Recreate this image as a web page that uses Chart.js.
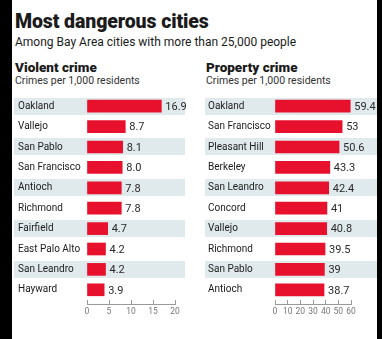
<!DOCTYPE html>
<html>
<head>
<meta charset="utf-8">
<script src="https://cdn.jsdelivr.net/npm/chart.js"></script>
<style>
body { margin:0; width:382px; height:339px; background:#fff; position:relative; overflow:hidden; font-family:Roboto, "Open Sans", sans-serif; color:#1b1b1b; }
#bordeIzq { position:absolute; left:0; top:0; width:12px; height:339px; background:#000; }
#bordeDer { position:absolute; left:377px; top:0; width:5px; height:339px; background:#000; }
.t { position:absolute; white-space:nowrap; line-height:1; }
#titulo { left:15px; top:12px; font-size:19.5px; font-weight:900; letter-spacing:-0.1px; }
#subtitulo { left:15px; top:36px; font-size:12px; }
.panel { top:61px; font-size:13.5px; font-weight:900; }
.unidad { top:76px; font-size:10.5px; color:#333; }
canvas { position:absolute; }
</style>
</head>
<body>
<div id="bordeIzq"></div>
<div id="bordeDer"></div>
<div class="t" id="titulo">Most dangerous cities</div>
<div class="t" id="subtitulo">Among Bay Area cities with more than 25,000 people</div>
<div class="t panel" style="left:15px">Violent crime</div>
<div class="t unidad" style="left:15px">Crimes per 1,000 residents</div>
<div class="t panel" style="left:206px">Property crime</div>
<div class="t unidad" style="left:206px">Crimes per 1,000 residents</div>
<canvas id="graficaViolento" width="176" height="234" style="left:14px; top:90px"></canvas>
<canvas id="graficaPropiedad" width="172" height="234" style="left:205px; top:90px"></canvas>
<script>
var ciudadesViolento = ["Oakland", "Vallejo", "San Pablo", "San Francisco", "Antioch",
  "Richmond", "Fairfield", "East Palo Alto", "San Leandro", "Hayward"];
var violento = [16.9, 8.7, 8.1, 8.0, 7.8, 7.8, 4.7, 4.2, 4.2, 3.9];
var ticksViolento = [0, 5, 10, 15, 20];

var ciudadesPropiedad = ["Oakland", "San Francisco", "Pleasant Hill", "Berkeley", "San Leandro",
  "Concord", "Vallejo", "Richmond", "San Pablo", "Antioch"];
var propiedad = [59.4, 53, 50.6, 43.3, 42.4, 41, 40.8, 39.5, 39, 38.7];
var ticksPropiedad = [0, 10, 20, 30, 40, 50, 60];

// filas sombreadas detras de las barras
var bandas = {
  id: 'bandas',
  beforeDraw: function(chart, args, opts) {
    var ctx = chart.ctx, y = chart.scales.y;
    var paso = y.getPixelForValue(1) - y.getPixelForValue(0);
    var fin = chart.chartArea.right + opts.extra;
    ctx.save();
    ctx.fillStyle = '#e0eaed';
    for (var i = 0; i < chart.data.labels.length; i += 2) {
      var c = y.getPixelForValue(i);
      ctx.fillRect(0, Math.round(c - paso * 0.42), fin, Math.round(paso * 0.84));
    }
    ctx.restore();
  }
};

// numero al final de cada barra
var valores = {
  id: 'valores',
  afterDatasetsDraw: function(chart, args, opts) {
    var ctx = chart.ctx, meta = chart.getDatasetMeta(0), datos = chart.data.datasets[0].data;
    ctx.save();
    ctx.font = '11px Roboto';
    ctx.fillStyle = '#2a2a2a';
    ctx.textBaseline = 'middle';
    meta.data.forEach(function(barra, i) {
      var txt = opts.decimales != null ? datos[i].toFixed(opts.decimales) : String(datos[i]);
      ctx.fillText(txt, barra.x + 4, barra.y + 1);
    });
    ctx.restore();
  }
};

// linea base del eje x, con las marcas hacia arriba
var lineaEje = {
  id: 'lineaEje',
  afterDraw: function(chart) {
    var ctx = chart.ctx, x = chart.scales.x, yb = chart.chartArea.bottom + 4;
    ctx.save();
    ctx.strokeStyle = '#999';
    ctx.lineWidth = 1;
    ctx.beginPath();
    ctx.moveTo(x.getPixelForValue(x.min), yb + 0.5);
    ctx.lineTo(x.getPixelForValue(x.max) + 1, yb + 0.5);
    ctx.stroke();
    ctx.restore();
  }
};

function crearGrafica(id, ciudades, datos, ticks, anchoEje, relleno, extra, decimales) {
  return new Chart(document.getElementById(id).getContext('2d'), {
    type: 'bar',
    data: {
      labels: ciudades,
      datasets: [{
        data: datos,
        backgroundColor: '#e8112d',
        barThickness: 12
      }]
    },
    plugins: [bandas, valores, lineaEje],
    options: {
      indexAxis: 'y',
      responsive: false,
      animation: false,
      devicePixelRatio: 1,
      layout: { padding: relleno },
      plugins: {
        legend: { display: false },
        tooltip: { enabled: false },
        bandas: { extra: extra },
        valores: { decimales: decimales }
      },
      scales: {
        x: {
          min: ticks[0],
          max: ticks[ticks.length - 1],
          afterBuildTicks: function(eje) {
            eje.ticks = ticks.map(function(v) { return { value: v }; });
          },
          afterFit: function(eje) { eje.height = 24; },
          grid: { drawOnChartArea: false, drawTicks: true, tickLength: 4, color: '#999' },
          border: { display: false },
          ticks: { color: '#777', font: { family: 'Roboto', size: 8.5 }, padding: 3,
                   maxRotation: 0, autoSkip: false }
        },
        y: {
          afterFit: function(eje) { eje.width = anchoEje; },
          grid: { display: false },
          border: { display: false },
          ticks: { crossAlign: 'far', color: '#1b1b1b', font: { family: 'Roboto', size: 10 }, padding: 0 }
        }
      }
    }
  });
}

crearGrafica('graficaViolento', ciudadesViolento, violento, ticksViolento, 69,
  { left: 4, right: 15, top: 5, bottom: 0 }, 10, 1);
crearGrafica('graficaPropiedad', ciudadesPropiedad, propiedad, ticksPropiedad, 67,
  { left: 3, right: 26, top: 5, bottom: 0 }, 26, null);
</script>
</body>
</html>
